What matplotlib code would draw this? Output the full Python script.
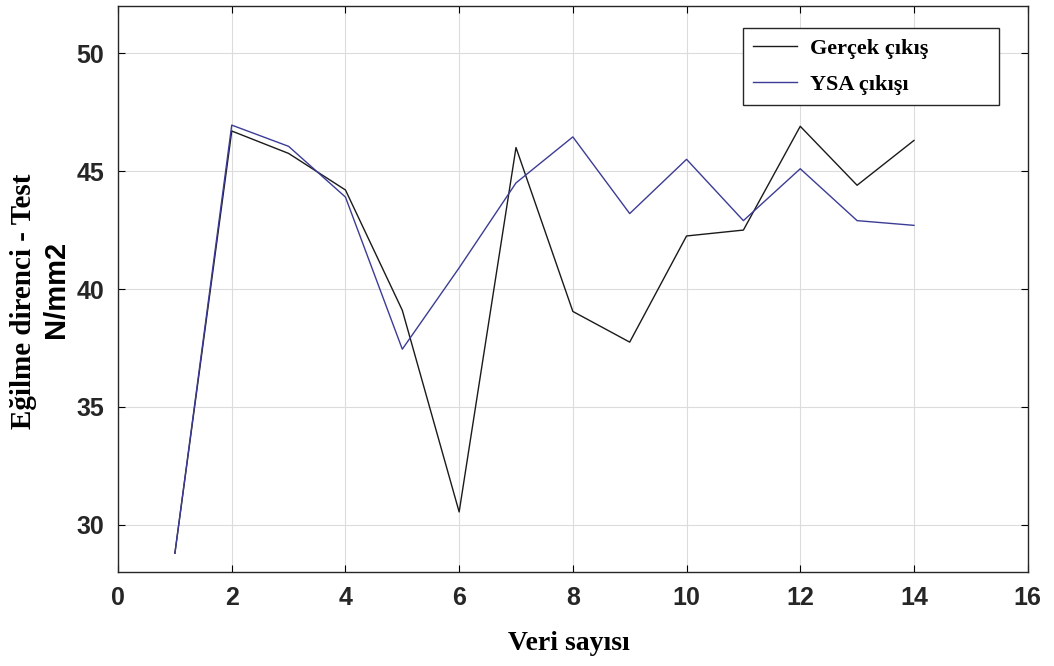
import matplotlib.pyplot as plt

veri = [1, 2, 3, 4, 5, 6, 7, 8, 9, 10, 11, 12, 13, 14]
gercek = [28.8, 46.7, 45.75, 44.2, 39.1, 30.55, 46.0, 39.05, 37.75, 42.25, 42.5, 46.9, 44.4, 46.3]
ysa = [28.8, 46.95, 46.05, 43.9, 37.45, 40.9, 44.5, 46.45, 43.2, 45.5, 42.9, 45.1, 42.9, 42.7]

x_ticks = [0, 2, 4, 6, 8, 10, 12, 14, 16]
y_ticks = [30, 35, 40, 45, 50]

fig = plt.figure(figsize=(10.54, 6.66), dpi=100)
ax = fig.add_axes([0.112, 0.141, 0.863, 0.850])

ax.plot(veri, gercek, color="#1a1a1a", linewidth=1.0, label="Gerçek çıkış")
ax.plot(veri, ysa, color="#3c3c96", linewidth=1.0, label="YSA çıkışı")

ax.set_xlim(0, 16)
ax.set_ylim(28, 52)
ax.set_xticks(x_ticks)
ax.set_yticks(y_ticks)
ax.grid(True, color="#dcdcdc", linewidth=0.8)
ax.tick_params(direction="in", top=True, right=True, length=5, pad=10, labelsize=18)
for lab in ax.get_xticklabels() + ax.get_yticklabels():
    lab.set_fontweight("bold")
    lab.set_family("Liberation Sans")
    lab.set_color("#262626")
for s in ax.spines.values():
    s.set_color("#262626")
    s.set_linewidth(1.0)

# wide box, content on the left (as in the original)
leg = ax.legend(loc="upper left", bbox_to_anchor=(0.687, 0.961, 0.281, 0), mode="expand",
                borderaxespad=0, fancybox=False, edgecolor="#262626", framealpha=1,
                prop={"family": "Liberation Serif", "weight": "bold", "size": 16},
                handlelength=2.0, handletextpad=0.55, borderpad=0.45, labelspacing=0.7)
leg.get_frame().set_linewidth(1.0)

fig.text(0.54, 0.034, "Veri sayısı", ha="center", va="center",
         family="Liberation Serif", weight="bold", size=20)
fig.text(0.022, 0.547, "Eğilme direnci - Test", ha="center", va="center", rotation=90,
         family="Liberation Serif", weight="bold", size=21)
fig.text(0.053, 0.565, "N/mm2", ha="center", va="center", rotation=90,
         family="Liberation Sans", weight="bold", size=21)

fig.savefig("out.png", dpi=100)
